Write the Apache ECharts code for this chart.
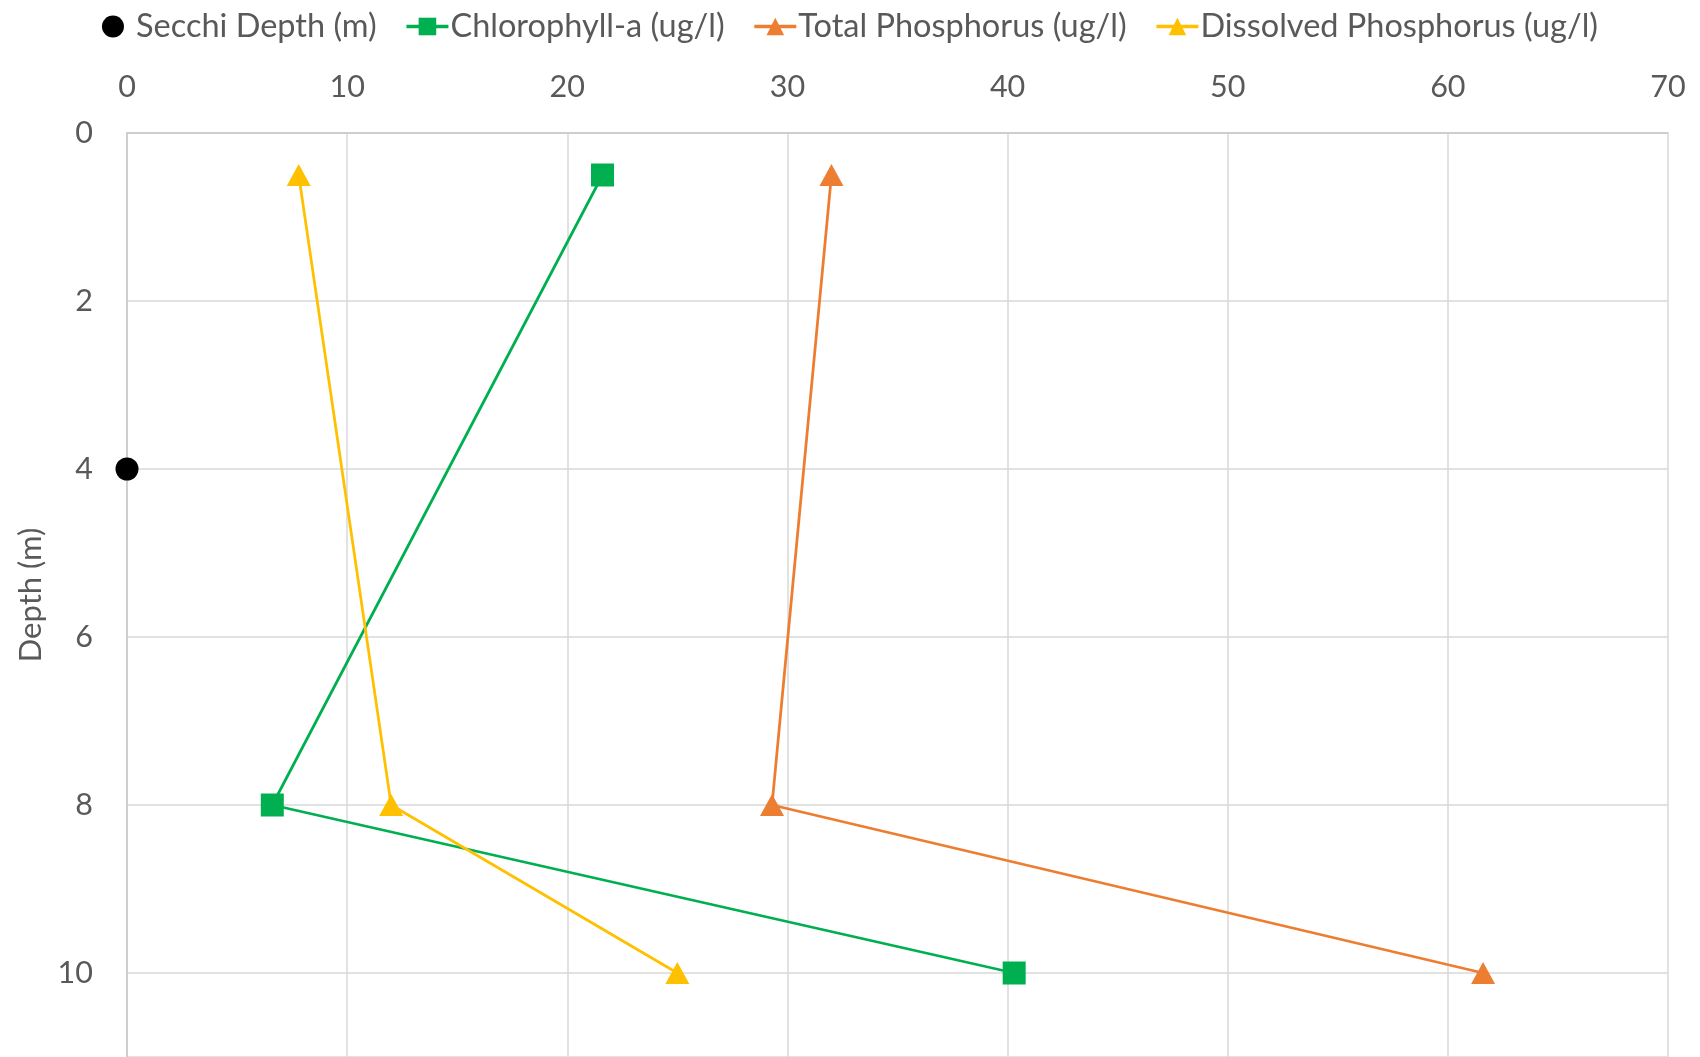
<!DOCTYPE html>
<html>
<head>
<meta charset="utf-8">
<title>Depth profile</title>
<script src="https://cdn.jsdelivr.net/npm/echarts@6/dist/echarts.min.js"></script>
<style>
  html, body { margin: 0; padding: 0; background: #ffffff; }
  #chart { width: 1700px; height: 1057px; }
</style>
</head>
<body>
<div id="chart"></div>
<script>
// Sample depths (m) and measured values at each depth
const depths = [0.5, 8, 10];
const secchiDepth = [[0, 4]];             // [x, depth]
const chlorophyllA = [21.6, 6.6, 40.3];    // ug/l
const totalPhosphorus = [32.0, 29.3, 61.6];   // ug/l
const dissolvedPhosphorus = [7.8, 12.0, 25.0]; // ug/l
const xTicks = [0, 10, 20, 30, 40, 50, 60, 70];
const depthTicks = [0, 2, 4, 6, 8, 10];

const seriesNames = [
  'Secchi Depth (m)',
  'Chlorophyll-a (ug/l)',
  'Total Phosphorus (ug/l)',
  'Dissolved Phosphorus (ug/l)'
];

const FONT = 'Lato, "Liberation Sans", sans-serif';
const TEXT = '#595959';
const GRID = '#d9d9d9';

function profile(values) {
  return values.map((v, i) => [v, depths[i]]);
}

const chart = echarts.init(document.getElementById('chart'), null, { renderer: 'canvas' });

chart.setOption({
  animation: false,
  backgroundColor: '#ffffff',
  textStyle: { fontFamily: FONT },
  legend: {
    top: 5,
    left: 'center',
    itemGap: 28,
    itemWidth: 42,
    itemHeight: 22,
    lineStyle: { width: 3.5 },
    textStyle: { fontFamily: FONT, fontSize: 32.5, color: TEXT, padding: [0, 0, 0, -3] },
    data: seriesNames
  },
  grid: {
    left: 127,
    top: 133,
    width: 1541,
    height: 925.5,
    containLabel: false
  },
  xAxis: {
    type: 'value',
    position: 'top',
    min: 0,
    max: 70,
    interval: 10,
    axisLine: { show: true, lineStyle: { color: '#c8c8c8', width: 1.5 } },
    axisTick: { show: false },
    splitLine: { show: true, lineStyle: { color: GRID, width: 1.5 } },
    axisLabel: {
      margin: 30,
      fontFamily: FONT,
      fontSize: 30.5,
      color: TEXT,
      formatter: v => (xTicks.includes(v) ? String(v) : '')
    }
  },
  yAxis: {
    type: 'value',
    inverse: true,
    min: 0,
    max: 11,
    interval: 2,
    name: 'Depth (m)',
    nameLocation: 'middle',
    nameGap: 80,
    nameRotate: 90,
    nameTextStyle: { fontFamily: FONT, fontSize: 31, color: TEXT },
    axisLine: { show: true, lineStyle: { color: '#c8c8c8', width: 1.5 } },
    axisTick: { show: false },
    splitLine: { show: true, lineStyle: { color: GRID, width: 1.5 } },
    axisLabel: {
      margin: 34,
      fontFamily: FONT,
      fontSize: 30.5,
      color: TEXT,
      showMaxLabel: false,
      formatter: v => (depthTicks.includes(v) ? String(v) : '')
    }
  },
  series: [
    {
      name: seriesNames[0],
      type: 'scatter',
      data: secchiDepth,
      symbol: 'circle',
      symbolSize: 23,
      itemStyle: { color: '#000000', opacity: 1 }
    },
    {
      name: seriesNames[1],
      type: 'line',
      data: profile(chlorophyllA),
      symbol: 'rect',
      symbolSize: 23,
      showAllSymbol: true,
      lineStyle: { color: '#00B050', width: 2.75 },
      itemStyle: { color: '#00B050' }
    },
    {
      name: seriesNames[2],
      type: 'line',
      data: profile(totalPhosphorus),
      symbol: 'triangle',
      symbolSize: [24, 22],
      lineStyle: { color: '#ED7D31', width: 2.75 },
      itemStyle: { color: '#ED7D31' }
    },
    {
      name: seriesNames[3],
      type: 'line',
      data: profile(dissolvedPhosphorus),
      symbol: 'triangle',
      symbolSize: [24, 22],
      lineStyle: { color: '#FFC000', width: 2.75 },
      itemStyle: { color: '#FFC000' }
    }
  ]
});
</script>
</body>
</html>
